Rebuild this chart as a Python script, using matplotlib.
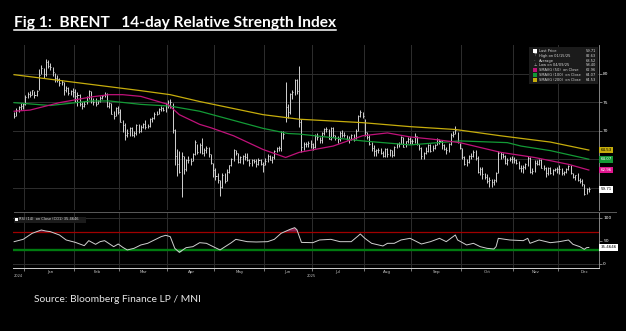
"""
Brent 14-day RSI chart (Bloomberg style) - redrawn with matplotlib
"""

import numpy as np
import pandas as pd
import matplotlib
matplotlib.use("Agg")
import matplotlib.pyplot as plt
from matplotlib.patches import Rectangle
from matplotlib.lines import Line2D

# ---------------- data ----------------
holidays = ["2024-12-25", "2024-12-26", "2025-01-01", "2025-04-18"]
days = pd.bdate_range("2024-12-23", "2025-12-18").drop(pd.to_datetime(holidays))

closes = [
    72.6, 73.6, 74.2, 74.4, 74.6,
    75.9, 76.5, 76.3, 77.1, 76.2, 76.9, 79.8, 81.0, 79.9, 82.0, 81.3, 81.2, 80.2, 79.3, 79.0, 78.3, 78.5, 77.1, 77.5, 76.6, 76.9, 76.8,
    76.0, 76.2, 74.6, 74.3, 74.7, 75.9, 77.0, 75.2, 75.0, 74.7, 75.2, 75.8, 76.0, 76.5, 74.4, 74.8, 73.0, 72.5, 74.0, 73.2,
    71.6, 71.0, 69.3, 69.5, 70.4, 69.3, 69.6, 71.0, 69.9, 70.6, 71.1, 70.6, 70.8, 72.0, 72.2, 73.0, 73.0, 73.8, 74.0, 73.6, 74.7,
    74.5, 75.0, 70.1, 65.6, 64.2, 62.8, 65.5, 63.3, 64.8, 64.9, 64.7, 65.9, 68.0, 66.3, 67.4, 66.1, 66.6, 66.9, 65.9, 64.3, 63.1,
    62.1, 61.3, 60.2, 62.2, 61.1, 62.8, 63.9, 65.0, 66.6, 66.1, 64.5, 65.4, 65.5, 65.4, 64.9, 64.4, 64.8, 64.7, 64.1, 64.9, 64.2, 63.9,
    64.6, 65.6, 64.9, 65.3, 66.5, 67.0, 66.9, 69.8, 69.4, 74.2, 73.2, 76.5, 76.7, 78.9, 77.0, 71.5, 67.1, 67.7, 67.7, 67.8, 67.6,
    67.1, 69.1, 68.8, 68.3, 69.6, 70.2, 70.2, 68.6, 70.4, 69.2, 68.7, 68.5, 69.5, 69.3, 69.2, 68.6, 68.5, 69.2, 68.4, 70.0, 72.5, 73.2, 72.5,
    69.7, 68.8, 67.6, 66.9, 66.4, 66.6, 66.6, 66.1, 65.6, 66.8, 65.9, 66.6, 65.8, 67.2, 67.7, 67.7, 68.8, 67.2, 68.1, 68.6, 68.1,
    68.2, 69.1, 67.6, 67.0, 65.5, 66.0, 66.4, 67.5, 66.4, 67.0, 67.4, 68.5, 68.2, 67.4, 66.7, 66.6, 67.6, 69.3, 69.4, 70.1, 68.0, 67.0,
    65.4, 64.1, 64.5, 65.5, 65.5, 66.3, 65.2, 62.7, 63.3, 62.4, 61.9, 61.1, 61.3, 61.0, 61.3, 62.6, 66.0, 65.9, 65.6, 64.4, 64.9, 65.0, 65.1,
    64.9, 64.4, 63.5, 63.4, 63.6, 64.1, 65.2, 62.7, 63.0, 64.4, 64.2, 64.9, 63.5, 63.4, 62.6, 63.4, 62.5, 63.1, 63.3, 63.2,
    63.2, 62.5, 62.7, 63.3, 63.8, 62.5, 61.9, 62.2, 61.3, 61.1, 60.6, 58.9, 59.7, 59.7,
]
highs = [
    73.3, 73.9, 74.4, 74.8, 74.9,
    76.2, 76.7, 77.0, 77.2, 77.0, 77.1, 80.8, 81.5, 81.0, 82.6, 82.3, 81.8, 81.2, 80.1, 79.7, 79.2, 78.8, 78.6, 77.8, 77.7, 77.2, 77.5,
    77.3, 76.7, 76.4, 75.0, 75.2, 76.0, 77.2, 77.0, 75.8, 75.7, 75.3, 76.0, 76.3, 76.8, 76.6, 75.1, 74.8, 73.5, 74.2, 74.3,
    73.8, 71.8, 71.3, 70.2, 70.6, 70.6, 70.0, 71.1, 71.2, 71.0, 71.4, 71.9, 71.2, 72.3, 72.4, 73.3, 73.4, 74.0, 74.3, 74.2, 74.8,
    75.3, 75.5, 74.9, 70.3, 66.8, 66.4, 66.2, 65.6, 65.0, 65.6, 65.2, 66.0, 68.3, 67.7, 67.8, 68.7, 66.9, 67.3, 67.1, 65.9, 64.4,
    63.4, 62.5, 61.4, 62.5, 62.6, 63.2, 64.0, 65.2, 66.8, 66.6, 66.1, 65.6, 65.7, 66.0, 66.0, 65.0, 65.1, 65.0, 65.0, 65.2, 65.1, 64.5,
    65.2, 65.9, 65.8, 65.5, 66.6, 67.2, 67.3, 70.0, 70.0, 78.5, 74.7, 76.6, 77.1, 79.0, 79.0, 81.4, 72.0, 68.0, 68.0, 68.2, 68.3,
    67.8, 69.4, 69.5, 68.9, 69.8, 70.5, 70.7, 70.3, 70.6, 70.7, 69.3, 69.1, 69.9, 70.1, 69.8, 69.3, 69.0, 69.4, 69.4, 70.2, 72.7, 73.6, 73.3,
    72.1, 69.7, 69.2, 68.0, 67.4, 66.8, 66.9, 67.0, 66.4, 66.9, 66.9, 66.8, 66.6, 67.3, 67.8, 68.0, 69.0, 68.9, 68.2, 68.9, 68.8,
    68.6, 69.5, 69.0, 67.7, 67.1, 66.3, 67.2, 67.7, 67.6, 67.4, 67.7, 68.7, 68.6, 68.3, 67.6, 67.2, 67.8, 69.5, 69.9, 70.8, 69.8, 67.9,
    66.9, 65.6, 65.0, 65.8, 66.0, 66.6, 66.6, 65.5, 63.7, 63.6, 62.6, 62.4, 61.8, 61.5, 61.5, 62.8, 66.4, 66.3, 66.1, 65.7, 65.2, 65.4, 65.5,
    65.4, 65.0, 64.6, 64.0, 64.0, 64.4, 65.5, 65.3, 63.4, 64.8, 64.8, 65.1, 65.0, 64.0, 63.6, 63.6, 63.6, 63.3, 63.5, 63.6,
    63.9, 63.5, 62.9, 63.4, 64.0, 63.9, 62.6, 62.3, 62.6, 61.7, 61.6, 60.6, 60.0, 60.2,
]
lows = [
    72.2, 72.5, 73.2, 73.6, 73.8,
    74.5, 75.7, 75.9, 76.2, 75.7, 76.0, 77.2, 79.9, 79.3, 79.5, 80.9, 80.6, 79.6, 78.6, 78.5, 77.9, 78.0, 76.2, 76.8, 76.3, 76.2, 75.9,
    75.0, 74.4, 74.4, 73.8, 74.2, 74.7, 75.6, 74.9, 74.5, 74.4, 74.7, 75.0, 75.6, 75.9, 74.2, 73.9, 72.9, 72.0, 72.5, 72.9,
    71.5, 69.8, 68.3, 68.8, 69.0, 69.0, 68.8, 69.3, 69.6, 69.8, 70.4, 70.3, 70.4, 70.6, 71.6, 72.0, 72.7, 72.9, 73.4, 73.4, 73.3,
    74.0, 74.0, 69.5, 64.0, 62.0, 62.5, 58.4, 62.4, 62.9, 64.3, 64.0, 64.6, 65.8, 65.9, 66.0, 65.9, 65.6, 66.1, 65.4, 64.1, 61.9,
    61.3, 60.9, 58.6, 60.0, 60.9, 61.1, 62.5, 63.8, 64.7, 65.8, 64.3, 64.3, 64.2, 64.9, 64.6, 63.8, 63.8, 64.4, 63.7, 63.9, 63.9, 62.8,
    63.9, 64.5, 64.8, 64.3, 65.1, 66.3, 66.4, 66.5, 68.5, 71.6, 72.2, 73.0, 75.5, 76.3, 76.4, 70.6, 66.3, 66.6, 67.1, 67.2, 67.0,
    66.6, 66.9, 68.3, 67.8, 67.9, 69.2, 69.7, 68.5, 68.4, 68.9, 68.4, 67.8, 68.1, 68.9, 68.8, 68.3, 67.8, 68.3, 68.2, 68.5, 69.9, 72.4, 72.2,
    69.1, 68.6, 67.4, 66.4, 65.6, 65.6, 66.0, 65.9, 65.4, 65.4, 65.4, 65.6, 65.4, 65.6, 67.0, 67.1, 67.6, 67.1, 67.1, 67.8, 67.6,
    67.6, 67.8, 67.5, 66.6, 65.1, 65.1, 65.9, 66.3, 66.3, 66.4, 66.7, 67.4, 67.7, 66.8, 66.6, 65.9, 66.3, 67.4, 68.8, 69.4, 67.8, 66.8,
    65.1, 63.9, 63.8, 64.3, 65.0, 65.4, 64.9, 62.6, 62.3, 61.5, 61.6, 60.9, 60.2, 60.1, 60.5, 61.0, 62.6, 65.0, 65.2, 64.2, 64.0, 64.6, 64.4,
    64.4, 64.1, 63.2, 62.7, 62.6, 63.3, 63.8, 62.6, 62.4, 62.8, 63.9, 63.9, 63.4, 63.1, 61.8, 62.2, 62.4, 62.3, 62.9, 62.5,
    62.4, 62.3, 62.2, 62.5, 63.1, 62.4, 61.7, 61.4, 61.2, 60.8, 60.3, 58.7, 58.9, 59.3,
]

sma50_dates = ["2024-12-23", "2025-01-06", "2025-01-23", "2025-02-12", "2025-02-24", "2025-03-04",
               "2025-03-14", "2025-04-01", "2025-04-08", "2025-04-22", "2025-04-29", "2025-05-13",
               "2025-05-30", "2025-06-13", "2025-06-23", "2025-07-14", "2025-07-31", "2025-08-15",
               "2025-08-29", "2025-09-12", "2025-09-30", "2025-10-24", "2025-11-14", "2025-12-05", "2025-12-18"]
sma50 = [73.4, 73.6, 74.9, 75.9, 76.3, 76.3, 76.0, 74.6, 72.8, 71.1, 70.5, 69.1,
         66.7, 65.3, 66.2, 67.3, 69.1, 69.6, 68.9, 68.5, 67.9, 66.2, 65.3, 64.1, 63.1]

sma100_dates = ["2024-12-23", "2025-01-17", "2025-02-12", "2025-02-24", "2025-03-14", "2025-04-02",
                "2025-04-22", "2025-05-30", "2025-06-16", "2025-06-23", "2025-07-31", "2025-08-29",
                "2025-09-30", "2025-10-29", "2025-11-06", "2025-11-25", "2025-12-18"]
sma100 = [74.9, 74.4, 75.2, 75.2, 74.6, 74.3, 73.4, 70.4, 69.5, 69.4, 68.2, 67.5,
          68.2, 67.9, 67.3, 66.5, 65.0]

sma200_dates = ["2024-12-23", "2025-02-18", "2025-03-14", "2025-04-02", "2025-04-22", "2025-05-30",
                "2025-06-23", "2025-07-31", "2025-08-29", "2025-09-26", "2025-10-24", "2025-11-25", "2025-12-18"]
sma200 = [79.8, 77.9, 77.0, 76.3, 75.1, 72.8, 72.0, 71.4, 70.7, 70.2, 69.1, 68.0, 66.6]

rsi_dates = ["2024-12-23", "2024-12-31", "2025-01-07", "2025-01-13", "2025-01-15", "2025-01-17",
             "2025-01-23", "2025-01-28", "2025-02-03", "2025-02-07", "2025-02-11", "2025-02-14",
             "2025-02-18", "2025-02-20", "2025-02-26", "2025-02-28", "2025-03-04", "2025-03-06",
             "2025-03-11", "2025-03-14", "2025-03-19", "2025-03-24", "2025-03-27", "2025-03-31",
             "2025-04-02", "2025-04-04", "2025-04-08", "2025-04-11", "2025-04-16", "2025-04-22",
             "2025-04-25", "2025-04-30", "2025-05-05", "2025-05-12", "2025-05-14", "2025-05-21",
             "2025-05-27", "2025-06-03", "2025-06-06", "2025-06-11", "2025-06-17", "2025-06-19",
             "2025-06-20", "2025-06-23", "2025-06-24", "2025-07-01", "2025-07-04", "2025-07-11",
             "2025-07-17", "2025-07-24", "2025-07-29", "2025-07-30", "2025-08-01", "2025-08-06",
             "2025-08-13", "2025-08-15", "2025-08-20", "2025-08-25", "2025-08-29", "2025-09-05",
             "2025-09-11", "2025-09-17", "2025-09-22", "2025-09-25", "2025-09-26", "2025-09-29",
             "2025-10-03", "2025-10-08", "2025-10-13", "2025-10-16", "2025-10-21", "2025-10-22",
             "2025-10-23", "2025-10-30", "2025-11-07", "2025-11-11", "2025-11-12", "2025-11-18",
             "2025-11-25", "2025-12-01", "2025-12-05", "2025-12-09", "2025-12-12", "2025-12-16",
             "2025-12-17", "2025-12-18"]
rsi = [48.1, 53.2, 66.4, 73.6, 71.4, 70.0,
       62.7, 51.8, 46.7, 39.4, 50.3, 42.3,
       48.1, 50.3, 37.2, 43.0, 35.8, 30.0,
       33.6, 40.9, 44.5, 51.8, 59.1, 62.0,
       59.1, 33.6, 24.8, 35.0, 37.2, 45.9,
       44.5, 37.2, 30.0, 45.9, 53.2, 48.1,
       47.4, 48.1, 53.2, 66.4, 75.1, 78.7,
       74.0, 60.0, 46.5, 45.9, 51.8, 53.2,
       48.1, 48.1, 60.5, 64.9, 55.4, 44.5,
       38.7, 44.5, 44.5, 51.8, 55.4, 43.0,
       48.1, 55.4, 48.1, 59.1, 62.7, 51.8,
       40.9, 44.5, 37.2, 33.6, 32.1, 37.2,
       55.4, 51.8, 50.3, 55.4, 44.5, 51.8,
       45.9, 48.1, 51.8, 42.3, 37.2, 31.4,
       35.0, 35.5]

month_names = ["Jan", "Feb", "Mar", "Apr", "May", "Jun", "Jul", "Aug", "Sep", "Oct", "Nov", "Dec"]

legend_labels = ["Last Price", "High on 01/15/25", "Average", "Low on 04/09/25",
                 "SMAVG (50)  on Close", "SMAVG (100)  on Close", "SMAVG (200)  on Close"]
legend_values = ["59.71", "82.63", "68.52", "58.40", "62.96", "64.07", "64.53"]
rsi_label = "RSI (14)  on Close (CO1) 35.4646"
rsi_last = "35.4646"

# ---------------- styling ----------------
W, H = 626, 331
BAR = "#d2d2d2"
GRID = "#2e2e2e"
MAGENTA = "#c0127a"
GREEN = "#139a36"
YELLOW = "#c6ad0c"


def fx(x):
    return x / W


def fy(y):
    return 1 - y / H


fig = plt.figure(figsize=(W / 100, H / 100), dpi=100, facecolor="black")
ax = fig.add_axes([fx(13), fy(210), 586 / W, 165 / H], facecolor="black")
ax2 = fig.add_axes([fx(13), fy(268), 586 / W, 56 / H], facecolor="black")

x = np.arange(len(days))
xlim = (-0.5, 258.5)

# month boundaries / label centres
starts, mids = [], []
for m in range(1, 13):
    st = int(np.where((days.year == 2025) & (days.month == m))[0][0])
    first = pd.Timestamp(2025, m, 1)
    n = len(pd.bdate_range(first, first + pd.offsets.MonthEnd(0)))
    starts.append(st - 0.5)
    mids.append(st - 0.5 + n / 2)

# ---- price panel ----
for s in starts:
    ax.axvline(s, color=GRID, lw=0.7, zorder=0)
ax.set_yticks([60, 65, 70, 75, 80])
ax.grid(axis="y", color=GRID, lw=0.7, zorder=0)

ax.vlines(x, lows, highs, color=BAR, lw=0.7, zorder=3)
ax.hlines(closes, x, x + 0.45, color=BAR, lw=0.7, zorder=3)

for dts, vals, col in [(sma200_dates, sma200, YELLOW), (sma100_dates, sma100, GREEN),
                       (sma50_dates, sma50, MAGENTA)]:
    pos = days.get_indexer(pd.to_datetime(dts), method="nearest")
    ax.plot(pos, vals, color=col, lw=0.9, zorder=4)

ax.set_xlim(*xlim)
ax.set_ylim(56.1, 85.0)
ax.yaxis.tick_right()
ax.set_yticklabels(["", "", "70", "75", "80"])
ax.tick_params(axis="y", length=2, width=0.5, color="#aaaaaa", labelsize=3.2,
               labelcolor="white", pad=1)
ax.tick_params(axis="x", length=0, labelbottom=False)
for side in ["top", "left", "bottom"]:
    ax.spines[side].set_visible(False)
ax.spines["right"].set_color("#9a9a9a")
ax.spines["right"].set_linewidth(0.6)

# coloured value tags on the price axis
tags = [(sma200[-1], legend_values[6], YELLOW, "black"),
        (sma100[-1], legend_values[5], GREEN, "white"),
        (sma50[-1], legend_values[4], "#e0158f", "white"),
        (closes[-1], legend_values[0], "white", "black")]
for val, txt, fc, tc in tags:
    ax.text(1.003, val, txt, transform=ax.get_yaxis_transform(), ha="left", va="center",
            fontsize=2.9, color=tc, zorder=6, clip_on=False,
            bbox=dict(boxstyle="square,pad=0.35", fc=fc, ec="none"))

# legend box
fig.add_artist(Rectangle((fx(529), fy(84)), 69 / W, 37 / H, transform=fig.transFigure,
                         fc="#1b1b1b", ec="none"))
icons = ["white", "⊤", "-", "⊥", MAGENTA, GREEN, YELLOW]
for i, (lab, val, ic) in enumerate(zip(legend_labels, legend_values, icons)):
    yy = 51 + i * 4.8
    if ic.startswith("#") or ic == "white":
        fig.add_artist(Rectangle((fx(533), fy(yy + 1.9)), 3.8 / W, 3.8 / H,
                                 transform=fig.transFigure, fc=ic, ec="none"))
    else:
        fig.text(fx(535), fy(yy), ic, color="#bbbbbb", fontsize=2.8, ha="center", va="center")
    fig.text(fx(539), fy(yy), lab, color="#d8d8d8", fontsize=2.6, ha="left", va="center")
    fig.text(fx(596), fy(yy), val, color="#d8d8d8", fontsize=2.6, ha="right", va="center")

# ---- RSI panel ----
for s in starts:
    ax2.axvline(s, color=GRID, lw=0.7, zorder=0)
ax2.axhline(0, color=GRID, lw=0.7, zorder=0)
ax2.axhline(100, color=GRID, lw=0.7, zorder=0)

rpos = days.get_indexer(pd.to_datetime(rsi_dates), method="nearest")
r = np.array(rsi)
ax2.fill_between(rpos, r, 70, where=r > 70, interpolate=True, color="#8a1d4c", lw=0, zorder=2)
ax2.fill_between(rpos, r, 30, where=r < 30, interpolate=True, color="#2fa84a", lw=0, zorder=2)
ax2.axhline(70, color="#a00000", lw=0.9, zorder=1)
ax2.axhline(30, color="#007a10", lw=1.7, zorder=1)
ax2.plot(rpos, r, color="#d0d0d0", lw=0.7, zorder=4)

ax2.set_xlim(*xlim)
ax2.set_ylim(-9.4, 112.9)
ax2.yaxis.tick_right()
ax2.set_yticks([0, 50, 100])
ax2.set_yticklabels(["0", "50", "100"])
ax2.tick_params(axis="y", length=2, width=0.5, color="#aaaaaa", labelsize=3.2,
                labelcolor="white", pad=1)
ax2.set_xticks(starts)
ax2.set_xticklabels([])
ax2.set_xticks(mids, minor=True)
ax2.set_xticklabels(month_names, minor=True)
ax2.tick_params(axis="x", which="major", length=2.2, width=0.5, color="#aaaaaa")
ax2.tick_params(axis="x", which="minor", length=0, labelsize=2.9, labelcolor="#c8c8c8", pad=1.2)
for side in ["top", "left"]:
    ax2.spines[side].set_visible(False)
ax2.spines["right"].set_color("#9a9a9a")
ax2.spines["right"].set_linewidth(0.6)
ax2.spines["bottom"].set_color("#cfcfcf")
ax2.spines["bottom"].set_linewidth(0.7)

# year labels centred on the visible span of each year
ax2.text((xlim[0] + starts[0]) / 2, -0.15, "2024", transform=ax2.get_xaxis_transform(),
         ha="center", va="center", fontsize=2.6, color="#bbbbbb")
ax2.text((starts[0] + xlim[1]) / 2, -0.15, "2025", transform=ax2.get_xaxis_transform(),
         ha="center", va="center", fontsize=2.6, color="#bbbbbb")

# RSI value tag + legend
ax2.text(1.003, r[-1], rsi_last, transform=ax2.get_yaxis_transform(), ha="left", va="center",
         fontsize=2.9, color="black", zorder=6, clip_on=False,
         bbox=dict(boxstyle="square,pad=0.35", fc="white", ec="none"))
fig.add_artist(Rectangle((fx(13.5), fy(222.5)), 73 / W, 6 / H, transform=fig.transFigure,
                         fc="#1b1b1b", ec="none"))
fig.add_artist(Rectangle((fx(14.5), fy(221.3)), 3.4 / W, 3.4 / H, transform=fig.transFigure,
                         fc="white", ec="none"))
fig.text(fx(19), fy(219.5), rsi_label, color="#d8d8d8", fontsize=2.6, ha="left", va="center")

# panel separator
fig.add_artist(Line2D([fx(14), fx(616)], [fy(212), fy(212)], color="#5a5a5a", lw=0.7,
                      transform=fig.transFigure))

# ---- title and source ----
title = fig.text(fx(14), fy(27.5), "Fig 1:  BRENT   14-day Relative Strength Index",
                 color="white", fontsize=11, fontweight="bold", family="Lato", va="baseline")
source = fig.text(fx(34), fy(301.5), "Source: Bloomberg Finance LP / MNI",
                  color="#e8e8e8", fontsize=7, family="Lato", va="baseline")
fig.canvas.draw()
for t, target in [(title, 322), (source, 167)]:
    bb = t.get_window_extent()
    t.set_fontsize(t.get_fontsize() * target / bb.width)
fig.canvas.draw()
bb = title.get_window_extent()
fig.add_artist(Line2D([bb.x0 / W, bb.x1 / W], [fy(30.2), fy(30.2)], color="white", lw=1.1,
                      transform=fig.transFigure))

fig.savefig("out.png", dpi=100, facecolor="black")
